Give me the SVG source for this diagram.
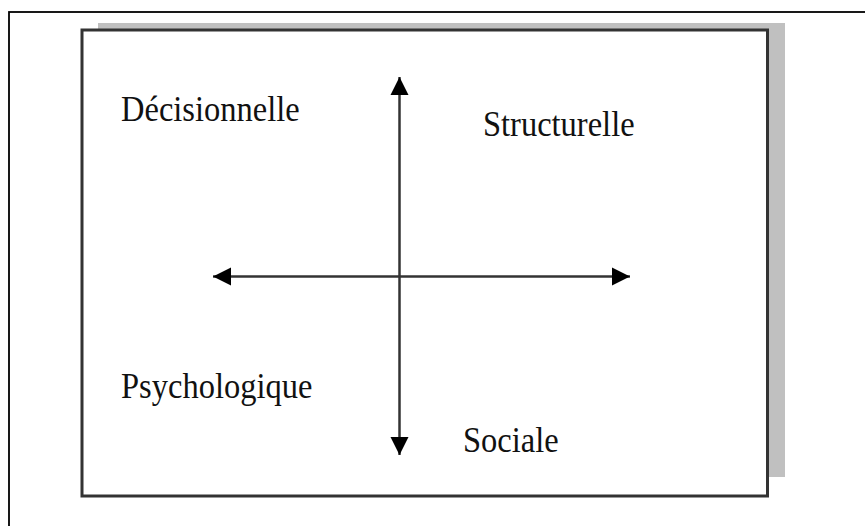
<svg xmlns="http://www.w3.org/2000/svg" width="865" height="526" viewBox="0 0 865 526">
  <style>
    .label { font-family: "Liberation Serif", "Times New Roman", serif; font-size: 32.5px; fill: #111; }
    .axis { stroke: #333; stroke-width: 2.5; fill: none; }
  </style>
  <defs>
    <marker id="head" viewBox="0 0 20 20" refX="18" refY="10" markerWidth="20" markerHeight="20" markerUnits="userSpaceOnUse" orient="auto-start-reverse">
      <path d="M0,1 L18,10 L0,19 Z" fill="#000"/>
    </marker>
  </defs>
  <rect width="865" height="526" fill="#fff"/>
  <!-- outer page frame -->
  <rect x="9" y="12" width="880" height="540" fill="none" stroke="#000" stroke-width="1.8"/>
  <!-- drop shadow and framed panel -->
  <rect x="98" y="23" width="687" height="454" fill="#c0c0c0"/>
  <rect x="82" y="30" width="685.5" height="466" fill="#fff" stroke="#333" stroke-width="3"/>
  <g id="connectors">
    <line class="axis" x1="399.5" y1="455" x2="399.5" y2="77" marker-start="url(#head)" marker-end="url(#head)"/>
    <line class="axis" x1="213" y1="276.5" x2="630" y2="276.5" marker-start="url(#head)" marker-end="url(#head)"/>
  </g>
  <g id="decisionnelle"><text class="label" transform="translate(121,121) scale(1,1.1)">Décisionnelle</text></g>
  <g id="structurelle"><text class="label" transform="translate(483,136) scale(1,1.1)">Structurelle</text></g>
  <g id="psychologique"><text class="label" transform="translate(121,398) scale(1,1.1)">Psychologique</text></g>
  <g id="sociale"><text class="label" transform="translate(463,452) scale(1,1.1)">Sociale</text></g>
</svg>
